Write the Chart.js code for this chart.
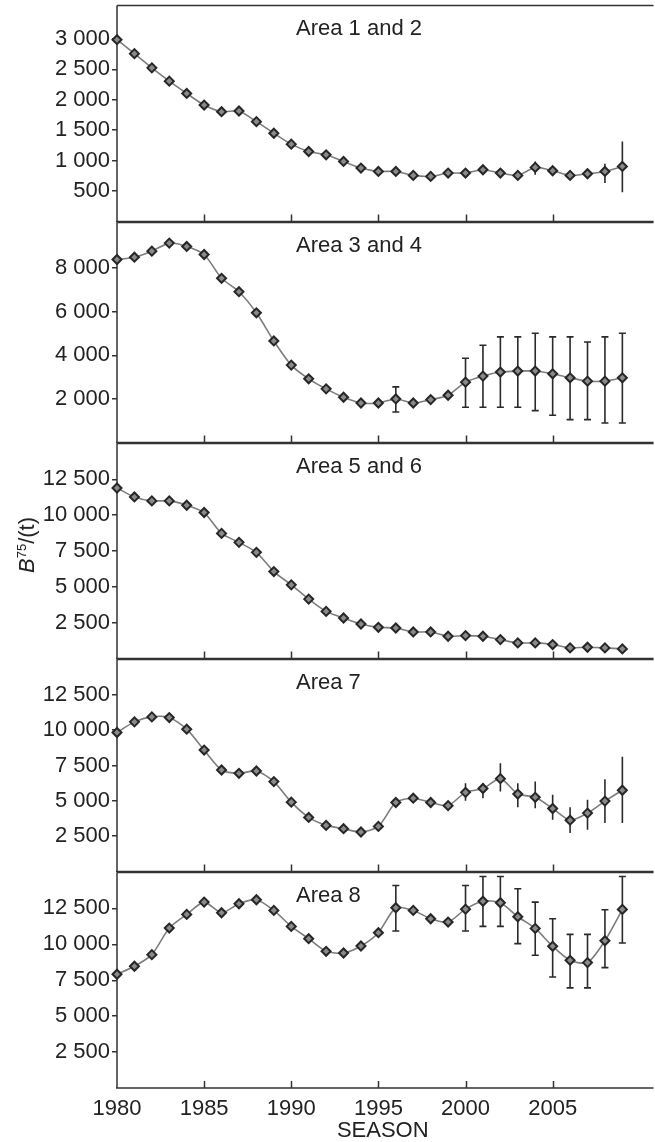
<!DOCTYPE html>
<html><head><meta charset="utf-8">
<script src="https://cdn.jsdelivr.net/npm/chart.js@4/dist/chart.umd.min.js"></script>
<style>
html,body{margin:0;padding:0;background:#fff;}
#wrap{position:relative;width:655px;height:1142px;overflow:hidden;background:#fff;}
canvas{position:absolute;left:0;}
#ylab{position:absolute;left:27px;top:545px;transform:translate(-50%,-50%) rotate(-90deg);font:22px "Liberation Sans",Arial,sans-serif;color:#222;white-space:nowrap;}
#ylab sup{font-size:13px;vertical-align:8px;line-height:0;}
</style></head><body>
<div id="wrap">
<canvas id="c0"></canvas><canvas id="c1"></canvas><canvas id="c2"></canvas><canvas id="c3"></canvas><canvas id="c4"></canvas>
<div id="ylab"><i>B</i><sup>75</sup>/(t)</div>
</div>
<script>
const years = [1980,1981,1982,1983,1984,1985,1986,1987,1988,1989,1990,1991,1992,1993,1994,1995,1996,1997,1998,1999,2000,2001,2002,2003,2004,2005,2006,2007,2008,2009];
const xTicks = [1980,1985,1990,1995,2000,2005];
const xTitle = 'SEASON';
const panelTitles = ['Area 1 and 2','Area 3 and 4','Area 5 and 6','Area 7','Area 8'];

const area12 = [2988,2759,2525,2307,2105,1914,1805,1816,1641,1451,1271,1150,1096,987,878,823,823,758,741,796,796,851,796,758,889,834,758,785,823,905];
const area12Low  = [null,null,null,null,null,null,null,null,null,null,null,null,null,null,null,null,null,null,null,null,null,null,null,null,769,null,null,null,633,479];
const area12High = [null,null,null,null,null,null,null,null,null,null,null,null,null,null,null,null,null,null,null,null,null,null,null,null,987,null,null,null,949,1314];

const area34 = [8400,8508,8785,9154,9000,8631,7538,6923,5954,4662,3554,2923,2462,2077,1815,1815,2000,1815,1969,2171,2771,3048,3233,3279,3279,3154,2969,2817,2817,2969];
const area34Low  = [null,null,null,null,null,null,null,null,null,null,null,null,null,null,null,null,1400,null,null,null,1617,1617,1617,1617,1465,1250,1050,1050,894,894];
const area34High = [null,null,null,null,null,null,null,null,null,null,null,null,null,null,null,null,2554,null,null,null,3865,4465,4848,4848,5017,4848,4848,4617,4848,5017];

const area56 = [11898,11273,10995,10995,10694,10185,8727,8102,7407,6065,5139,4144,3287,2824,2407,2176,2130,1852,1852,1551,1597,1551,1319,1088,1088,972,741,787,741,671];

const area7 = [9836,10587,10939,10892,10070,8592,7183,6948,7113,6362,4906,3826,3263,3028,2793,3192,4883,5188,4883,4660,5600,5870,6570,5480,5250,4460,3630,4131,4980,5750];
const area7Low  = [null,null,null,null,null,null,null,null,null,null,null,null,null,null,null,null,null,null,null,null,5000,5188,5657,4554,4484,3662,2725,2958,3430,3430];
const area7High = [null,null,null,null,null,null,null,null,null,null,null,null,null,null,null,null,null,null,null,null,6246,6246,7653,6246,6363,5423,4554,5070,6526,8122];

const area8 = [7917,8472,9282,11134,12083,12940,12199,12824,13102,12361,11250,10394,9514,9398,9884,10810,12546,12361,11782,11551,12450,13000,12894,11920,11110,9861,8889,8727,10250,12431];
const area8Low  = [null,null,null,null,null,null,null,null,null,null,null,null,null,null,null,null,10926,null,null,null,10926,11250,11250,10046,9236,7731,6968,6968,8380,10093];
const area8High = [null,null,null,null,null,null,null,null,null,null,null,null,null,null,null,null,14097,null,null,null,14097,14722,14722,13866,12940,11782,10694,10694,12407,14722];

const yTicks12 = [500,1000,1500,2000,2500,3000];
const yTicks34 = [2000,4000,6000,8000];
const yTicksBig = [2500,5000,7500,10000,12500];

const FONT = '"Liberation Sans", Arial, Helvetica, sans-serif';
const INK = '#222';

const panels = [
  {title:panelTitles[0], data:area12, low:area12Low, high:area12High, ticks:yTicks12, max:3550, top:5,   bottom:222, cap:0},
  {title:panelTitles[1], data:area34, low:area34Low, high:area34High, ticks:yTicks34, max:10100, top:222, bottom:443, cap:3.5},
  {title:panelTitles[2], data:area56, low:null, high:null, ticks:yTicksBig, max:15000, top:443, bottom:659, cap:0},
  {title:panelTitles[3], data:area7, low:area7Low, high:area7High, ticks:yTicksBig, max:15000, top:659, bottom:872, cap:0},
  {title:panelTitles[4], data:area8, low:area8Low, high:area8High, ticks:yTicksBig, max:15000, top:872, bottom:1088, cap:3.5}
];

const fmt = v => String(v).replace(/\B(?=(\d{3})+(?!\d))/g, ' ');

const framePlugin = {
  id: 'frame',
  beforeDatasetsDraw(chart, args, opts) {
    const {ctx, chartArea: a} = chart;
    const x = chart.scales.x;
    ctx.save();
    ctx.strokeStyle = '#333';
    ctx.lineWidth = 1.5;
    ctx.beginPath();
    ctx.moveTo(a.left, a.top); ctx.lineTo(a.right + 5, a.top);
    ctx.moveTo(a.left, a.top); ctx.lineTo(a.left, a.bottom);
    ctx.moveTo(a.left - 1, a.bottom); ctx.lineTo(a.right + 5, a.bottom);
    xTicks.forEach(v => {
      if (v === x.min) return;
      const px = Math.round(x.getPixelForValue(v)) + 0.5;
      ctx.moveTo(px, a.bottom); ctx.lineTo(px, a.bottom - 7);
    });
    ctx.stroke();
    ctx.fillStyle = INK;
    ctx.font = '22px ' + FONT;
    ctx.textAlign = 'left';
    ctx.textBaseline = 'alphabetic';
    ctx.fillText(opts.title, a.left + 179, a.top + 29);
    ctx.restore();
  }
};

const errPlugin = {
  id: 'errbars',
  beforeDatasetsDraw(chart, args, opts) {
    if (!opts.low) return;
    const {ctx} = chart;
    const x = chart.scales.x, y = chart.scales.y;
    ctx.save();
    ctx.strokeStyle = '#2a2a2a';
    ctx.lineWidth = 1.6;
    ctx.beginPath();
    opts.low.forEach((lo, i) => {
      const hi = opts.high[i];
      if (lo == null || hi == null) return;
      const px = x.getPixelForValue(years[i]);
      const y1 = y.getPixelForValue(lo), y2 = y.getPixelForValue(hi);
      ctx.moveTo(px, y1); ctx.lineTo(px, y2);
      if (opts.cap) {
        ctx.moveTo(px - opts.cap, y1); ctx.lineTo(px + opts.cap, y1);
        ctx.moveTo(px - opts.cap, y2); ctx.lineTo(px + opts.cap, y2);
      }
    });
    ctx.stroke();
    ctx.restore();
  }
};

panels.forEach((p, i) => {
  const isLast = i === panels.length - 1;
  const canvas = document.getElementById('c' + i);
  const padTop = 6, padBot = isLast ? 0 : 6;
  const bottomEdge = isLast ? 1142 : p.bottom;
  canvas.width = 655;
  canvas.height = bottomEdge - p.top + padTop + padBot;
  canvas.style.top = (p.top - padTop) + 'px';
  new Chart(canvas, {
    type: 'line',
    data: {
      datasets: [{
        data: years.map((yr, k) => ({x: yr, y: p.data[k]})),
        borderColor: '#7d7d7d',
        borderWidth: 1.6,
        tension: 0.25,
        pointStyle: 'rectRot',
        pointRadius: 4.5,
        pointBackgroundColor: '#8a8a8a',
        pointBorderColor: '#262626',
        pointBorderWidth: 2,
        clip: false
      }]
    },
    options: {
      responsive: false,
      animation: false,
      devicePixelRatio: 1,
      layout: {padding: {top: padTop, bottom: padBot, left: 0, right: 0}},
      plugins: {
        legend: {display: false},
        tooltip: {enabled: false},
        frame: {title: p.title},
        errbars: {low: p.low, high: p.high, cap: p.cap}
      },
      scales: {
        x: {
          type: 'linear',
          min: 1980, max: 2010.5,
          display: isLast,
          afterBuildTicks: s => { s.ticks = xTicks.map(v => ({value: v})); },
          afterFit: s => { if (isLast) s.height = 1142 - p.bottom; s.paddingLeft = 0; s.paddingRight = 0; },
          grid: {display: false},
          border: {display: false},
          ticks: {font: {size: 22, family: FONT}, color: INK, padding: 0, maxRotation: 0, autoSkip: false, callback: v => String(v)},
          title: {display: isLast, text: xTitle, font: {size: 22, family: FONT, lineHeight: 1.0}, color: INK, padding: {top: 0, bottom: 0}}
        },
        y: {
          min: 0, max: p.max,
          afterBuildTicks: s => { s.ticks = p.ticks.map(v => ({value: v})); },
          afterFit: s => { s.width = 117; s.paddingTop = 0; s.paddingBottom = 0; },
          grid: {drawOnChartArea: false, drawTicks: true, tickLength: 5, color: '#333', lineWidth: 1.5},
          border: {display: false},
          ticks: {font: {size: 22, family: FONT}, color: INK, padding: 2, callback: v => fmt(v)}
        }
      }
    },
    plugins: [framePlugin, errPlugin]
  });
});
</script>
</body></html>
